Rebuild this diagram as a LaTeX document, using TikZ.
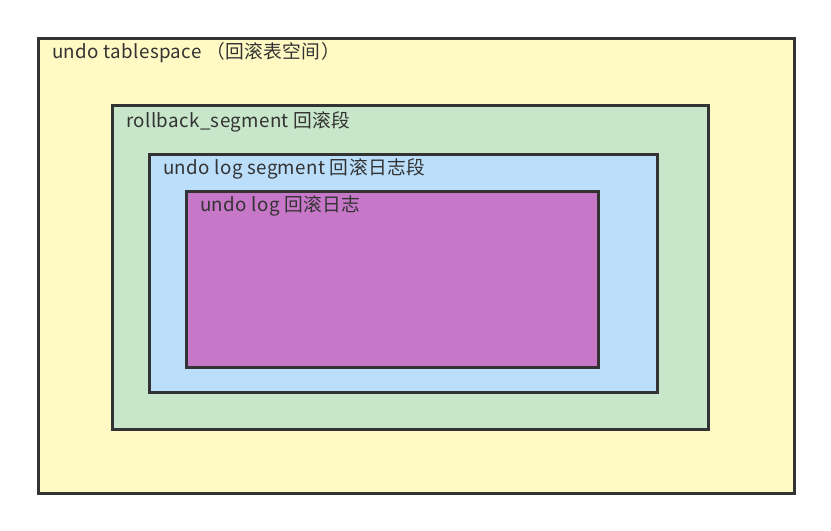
\documentclass[tikz,border=0pt]{standalone}
\usepackage{fontspec}
\newfontfamily\cjk[LetterSpace=2]{Noto Sans CJK SC}
\usepackage{tikz}
\usetikzlibrary{positioning}
\definecolor{edgegray}{HTML}{333333}
\definecolor{tsfill}{HTML}{FFF9C4}
\definecolor{rsfill}{HTML}{C8E6C9}
\definecolor{lsfill}{HTML}{BBDEFB}
\definecolor{ulfill}{HTML}{C777C8}

\begin{document}
\begin{tikzpicture} [x = 0.03cm, y = -0.03cm, font=\cjk\fontsize{16}{19}\selectfont,
		box/.style = {draw = edgegray, line width = 2.4pt, anchor = north west, inner sep = 0pt},
		lbl/.style = {anchor = west, inner sep = 0pt, text = edgegray}]
		\useasboundingbox (0,0) rectangle (831,531);
		% Boxes : outermost first, every other box sits inside it
		\node (ts) [box, fill = tsfill, minimum width = 22.68cm, minimum height = 13.65cm] at (37,37) {};
		\node (rs) [box, fill = rsfill, minimum width = 17.88cm, minimum height = 9.72cm] at (111,104) {};
		\node (ls) [box, fill = lsfill, minimum width = 15.24cm, minimum height = 7.14cm] at (148,153) {};
		\node (ul) [box, fill = ulfill, minimum width = 12.36cm, minimum height = 5.28cm] at (185,190) {};

		% Labels
		\node (tsl) [lbl] at ([shift = {(15,16)}] ts.north west) {undo tablespace （回滚表空间）};
		\node (rsl) [lbl] at ([shift = {(15,18)}] rs.north west) {rollback\_segment 回滚段};
		\node (lsl) [lbl] at ([shift = {(15,16)}] ls.north west) {undo log segment 回滚日志段};
		\node (ull) [lbl] at ([shift = {(15,16)}] ul.north west) {undo log 回滚日志};
	\end{tikzpicture}
\end{document}
